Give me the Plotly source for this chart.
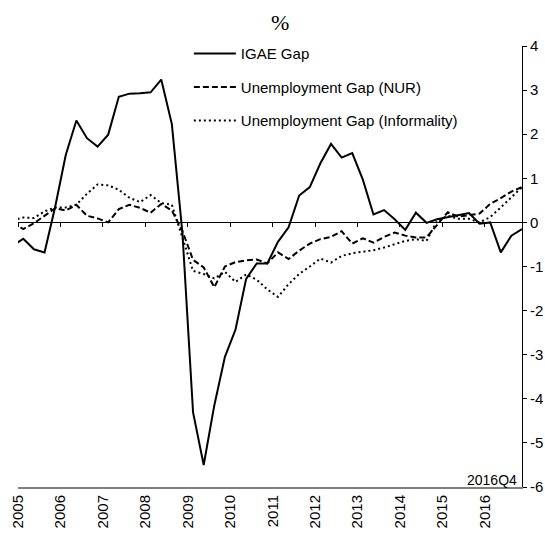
import plotly.graph_objects as go

# Quarterly periods (first point 2004Q4 lies just left of the visible range)
periods = ["2004Q4"] + [f"{y}Q{q}" for y in range(2005, 2017) for q in range(1, 5)]

igae_gap = [-0.53,
    -0.37, -0.61, -0.68, 0.35,
    1.53, 2.31, 1.91, 1.72,
    1.99, 2.85, 2.92, 2.93,
    2.95, 3.24, 2.23, -0.25,
    -4.31, -5.50, -4.15, -3.05,
    -2.43, -1.28, -0.93, -0.93,
    -0.44, -0.11, 0.61, 0.80,
    1.34, 1.78, 1.47, 1.57,
    0.97, 0.18, 0.28, 0.07,
    -0.17, 0.22, -0.01, 0.07,
    0.12, 0.17, 0.21, -0.03,
    0.00, -0.68, -0.30, -0.15]

nur_gap = [-0.01,
    -0.15, -0.02, 0.15, 0.32,
    0.27, 0.40, 0.15, 0.09,
    0.00, 0.30, 0.40, 0.33,
    0.22, 0.42, 0.27, -0.20,
    -0.85, -1.02, -1.47, -1.00,
    -0.90, -0.86, -0.84, -0.93,
    -0.68, -0.83, -0.64, -0.48,
    -0.38, -0.33, -0.20, -0.48,
    -0.36, -0.46, -0.33, -0.23,
    -0.30, -0.34, -0.34, -0.05,
    0.23, 0.13, 0.17, 0.20,
    0.42, 0.55, 0.70, 0.80]

informality_gap = [0.05,
    0.11, 0.10, 0.25, 0.34,
    0.34, 0.40, 0.65, 0.86,
    0.84, 0.74, 0.56, 0.46,
    0.62, 0.44, 0.40, -0.35,
    -1.10, -1.17, -1.27, -1.12,
    -1.35, -1.18, -1.30, -1.52,
    -1.69, -1.40, -1.17, -1.00,
    -0.82, -0.91, -0.76, -0.70,
    -0.66, -0.63, -0.57, -0.49,
    -0.42, -0.38, -0.42, 0.04,
    0.15, 0.08, 0.08, 0.00,
    0.12, 0.34, 0.57, 0.80]

year_ticks = list(range(2005, 2017))
year_labels = [str(y) for y in year_ticks]
y_ticks = [4, 3, 2, 1, 0, -1, -2, -3, -4, -5, -6]


def period_to_x(p):
    y, q = p.split("Q")
    return int(y) + (int(q) - 0.5) / 4.0


xs = [period_to_x(p) for p in periods]

FONT = "Liberation Sans, Arial, sans-serif"

fig = go.Figure()
fig.add_trace(go.Scatter(x=xs, y=igae_gap, mode="lines", name="IGAE Gap",
                         legendgroup="a",
                         line=dict(color="black", width=2, dash="solid")))
fig.add_trace(go.Scatter(x=xs, y=nur_gap, mode="lines", name="Unemployment Gap (NUR)",
                         legendgroup="b",
                         line=dict(color="black", width=2, dash="6px,3px")))
fig.add_trace(go.Scatter(x=xs, y=informality_gap, mode="lines",
                         name="Unemployment Gap (Informality)",
                         legendgroup="c",
                         line=dict(color="black", width=2, dash="2px,3px")))
# helper trace so the zero-line axis (x2) is drawn
fig.add_trace(go.Scatter(x=[None], y=[None], xaxis="x2", yaxis="y",
                         showlegend=False, hoverinfo="skip"))

xr = [2005.0, 2016.875]

fig.update_layout(
    width=545, height=535,
    margin=dict(l=18, r=23, t=46, b=48),
    paper_bgcolor="white", plot_bgcolor="white",
    font=dict(family=FONT, size=15, color="black"),
    title=dict(text="%", x=0.514, xref="container", y=1 - 22 / 535,
               yref="container", xanchor="center", yanchor="middle",
               font=dict(family="Liberation Serif, Times New Roman, serif",
                         size=22, color="black")),
    showlegend=True,
    legend=dict(x=0.339, y=1.02, xanchor="left", yanchor="top",
                bgcolor="rgba(0,0,0,0)", font=dict(size=15, family=FONT),
                traceorder="grouped", tracegroupgap=11, itemwidth=42),
    xaxis=dict(range=xr, tickmode="array", tickvals=year_ticks,
               ticktext=year_labels, tickangle=-90, showgrid=False,
               zeroline=False, showline=True, linecolor="#7f7f7f",
               linewidth=2, ticks="", tickfont=dict(size=15, family=FONT),
               automargin=False),
    xaxis2=dict(range=xr, overlaying="x", anchor="free", position=0.6,
                side="bottom", tickmode="array", tickvals=year_ticks,
                showticklabels=False, showgrid=False, zeroline=False,
                showline=True, linecolor="black", linewidth=1,
                ticks="outside", ticklen=4, tickcolor="black", tickwidth=1),
    yaxis=dict(range=[-6, 4], side="right", tickmode="array",
               tickvals=y_ticks, ticktext=[str(v) for v in y_ticks],
               showgrid=False, zeroline=False, showline=True,
               linecolor="black", linewidth=1, ticks="outside", ticklen=4,
               tickcolor="black", tickfont=dict(size=15, family=FONT),
               ticklabeloverflow="allow", automargin=False),
    annotations=[dict(text="2016Q4", xref="paper", yref="paper", x=1, y=0.0,
                      xanchor="right", yanchor="bottom", xshift=-3, yshift=-3,
                      showarrow=False, font=dict(size=14, family=FONT,
                                                 color="black"))],
)

fig.write_html("out.html",
               config={"displayModeBar": False},
               post_script="document.body.style.margin='0';"
                           "document.body.style.overflow='hidden';")
